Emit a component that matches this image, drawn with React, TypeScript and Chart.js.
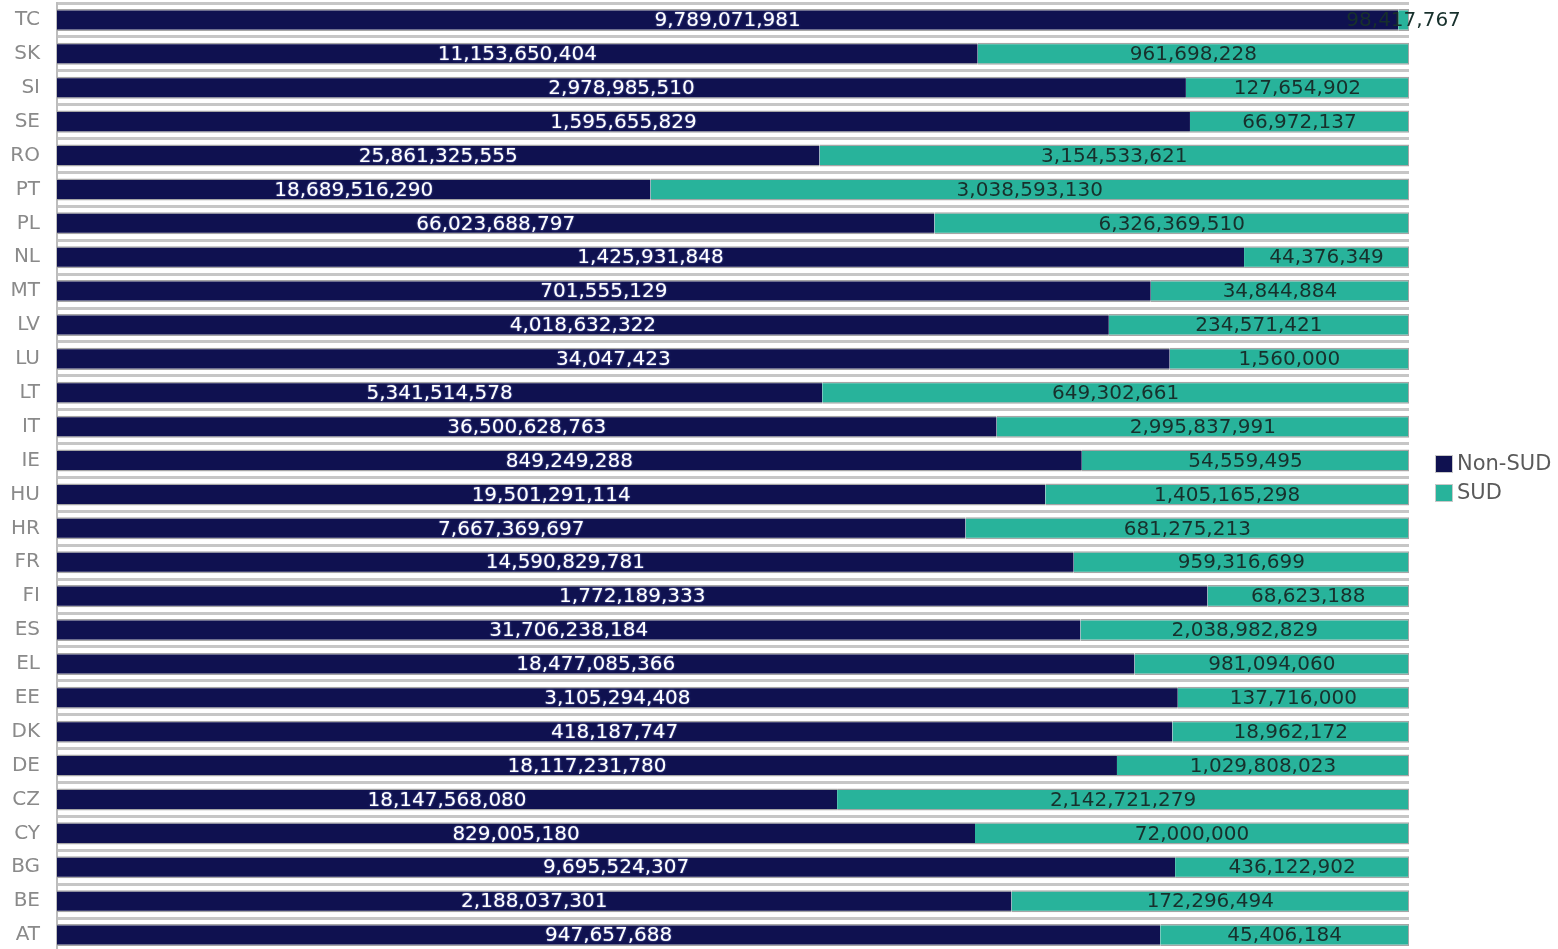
import React, { useEffect, useRef } from "react";
import { Chart, registerables } from "chart.js";

Chart.register(...registerables);

const categories = ["TC","SK","SI","SE","RO","PT","PL","NL","MT","LV","LU","LT","IT","IE","HU","HR","FR","FI","ES","EL","EE","DK","DE","CZ","CY","BG","BE","AT"];

// share of bar length (%) taken by Non-SUD
const nonSudShare = [99.2,68.1,83.5,83.8,56.4,43.9,64.9,87.8,80.9,77.8,82.3,56.6,69.5,75.8,73.1,67.2,75.2,85.1,75.7,79.7,82.9,82.5,78.4,57.7,67.9,82.7,70.6,81.6];

// amounts shown as labels
const nonSudAmounts = [9789071981,11153650404,2978985510,1595655829,25861325555,18689516290,66023688797,1425931848,701555129,4018632322,34047423,5341514578,36500628763,849249288,19501291114,7667369697,14590829781,1772189333,31706238184,18477085366,3105294408,418187747,18117231780,18147568080,829005180,9695524307,2188037301,947657688];
const sudAmounts = [98417767,961698228,127654902,66972137,3154533621,3038593130,6326369510,44376349,34844884,234571421,1560000,649302661,2995837991,54559495,1405165298,681275213,959316699,68623188,2038982829,981094060,137716000,18962172,1029808023,2142721279,72000000,436122902,172296494,45406184];

const seriesNames = ["Non-SUD", "SUD"];
const seriesColors = ["#0f1150", "#28b39b"];
const labelColors = ["#ffffff", "#17302c"];

const FONT = "'DejaVu Sans', sans-serif";

const fmt = (v: number) => v.toLocaleString("en-US");

const labelPlugin = {
  id: "segLabels",
  afterDatasetsDraw(chart: any) {
    const ctx = chart.ctx;
    const amounts = [nonSudAmounts, sudAmounts];
    ctx.save();
    ctx.font = `20px ${FONT}`;
    ctx.textAlign = "center";
    ctx.textBaseline = "middle";
    chart.data.datasets.forEach((_: any, i: number) => {
      const meta = chart.getDatasetMeta(i);
      meta.data.forEach((el: any, j: number) => {
        const p = el.getProps(["x", "base", "y"], true);
        const cx = (p.x + p.base) / 2;
        if (i === 0) {
          ctx.shadowColor = "rgba(150,160,230,0.8)";
          ctx.shadowBlur = 2;
        } else {
          ctx.shadowColor = "transparent";
          ctx.shadowBlur = 0;
        }
        ctx.fillStyle = labelColors[i];
        ctx.fillText(fmt(amounts[i][j]), cx, p.y + 1);
      });
    });
    ctx.restore();
  },
};

const legendPlugin = {
  id: "customLegend",
  afterDraw(chart: any) {
    const ctx = chart.ctx;
    ctx.save();
    ctx.font = `21px ${FONT}`;
    ctx.textAlign = "left";
    ctx.textBaseline = "middle";
    const x0 = chart.chartArea.right + 27;
    const y0 = 464;
    seriesNames.forEach((name, i) => {
      const y = y0 + i * 29;
      ctx.fillStyle = "#c8c8c8";
      ctx.fillRect(x0 - 1, y - 9, 18, 18);
      ctx.fillStyle = seriesColors[i];
      ctx.fillRect(x0, y - 8, 16, 16);
      ctx.fillStyle = "#5a5a5a";
      ctx.fillText(name, x0 + 21, y + 1);
    });
    ctx.restore();
  },
};

export default function App() {
  const ref = useRef<HTMLCanvasElement | null>(null);
  useEffect(() => {
    if (!ref.current) return;
    const chart = new Chart(ref.current, {
      type: "bar",
      data: {
        labels: categories,
        datasets: [
          {
            label: seriesNames[0],
            data: nonSudShare,
            backgroundColor: seriesColors[0],
            borderColor: "#a6a6a6",
            borderWidth: { top: 1.5, bottom: 1.5, left: 0, right: 0 } as any,
            borderSkipped: false,
            barPercentage: 0.65,
            categoryPercentage: 1,
          },
          {
            label: seriesNames[1],
            data: nonSudShare.map((v) => 100 - v),
            backgroundColor: seriesColors[1],
            borderColor: "#a6a6a6",
            borderWidth: { top: 1.5, bottom: 1.5, left: 0, right: 1 } as any,
            borderSkipped: false,
            barPercentage: 0.65,
            categoryPercentage: 1,
          },
        ],
      },
      options: {
        indexAxis: "y",
        animation: false,
        responsive: false,
        maintainAspectRatio: false,
        layout: { padding: { top: 3, right: 149, bottom: 0, left: 0 } },
        plugins: {
          legend: { display: false },
          tooltip: { enabled: false },
        },
        scales: {
          x: {
            display: false,
            stacked: true,
            min: 0,
            max: 100,
          },
          y: {
            stacked: true,
            afterFit(scale: any) {
              scale.width = 57;
              scale.paddingTop = 0;
              scale.paddingBottom = 0;
            },
            grid: {
              offset: true,
              drawTicks: false,
              color: "#c6c6c6",
              lineWidth: 3,
            },
            border: { display: true, color: "#bdbdbd", width: 2 },
            ticks: {
              padding: 17,
              color: "#8a8a8a",
              font: { family: FONT, size: 20 },
            },
          },
        },
      },
      plugins: [labelPlugin, legendPlugin],
    });
    return () => chart.destroy();
  }, []);
  return (
    <div style={{ position: "fixed", left: 0, top: 0, width: 1558, height: 952, background: "#fff" }}>
      <canvas ref={ref} width={1558} height={952} style={{ display: "block" }} />
    </div>
  );
}
